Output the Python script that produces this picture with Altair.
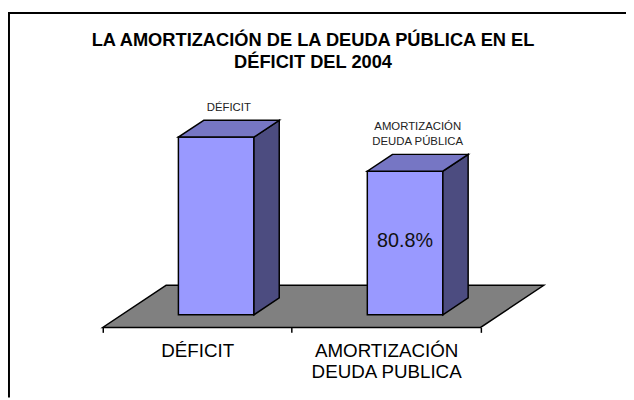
import json
import altair as alt
import pandas as pd

# ---------------- data ----------------
categories = ["DÉFICIT", "AMORTIZACIÓN\nDEUDA PUBLICA"]
values = [100.0, 80.8]
top_labels = ["DÉFICIT", "AMORTIZACIÓN\nDEUDA PÚBLICA"]
value_labels = ["", "80.8%"]
title_lines = ["LA AMORTIZACIÓN DE LA DEUDA PÚBLICA EN EL", "DÉFICIT DEL 2004"]

# ---------------- 3D geometry (style constants) ----------------
BAR_W = 0.40        # bar width, in category units
DX = 0.3345         # floor depth shift along x, category units
DY = 23.67          # floor depth shift along y, value units
D_FRONT, D_BACK = 0.3, 0.7   # bar position inside the floor depth

FRONT = "#9999FF"
TOP = "#7676C4"
SIDE = "#4C4C80"
FLOOR = "#808080"

W, H = 626, 259
PAD = {"left": 0, "top": 62, "right": 0, "bottom": 71}
PX_PER_CAT = 191.35
PX_PER_VAL = 1.8
XMIN = -96.0 / PX_PER_CAT
XMAX = XMIN + W / PX_PER_CAT
YMAX = H / PX_PER_VAL
TOP_LH = 16

n = len(categories)
xscale = alt.Scale(domain=[XMIN, XMAX], nice=False, zero=False)
yscale = alt.Scale(domain=[0, YMAX], nice=False, zero=False)

label_lines = [c.split("\n") for c in categories] + [""]
label_expr = json.dumps(label_lines, ensure_ascii=False) + "[datum.value]"
xaxis = alt.Axis(
    values=list(range(n + 1)), labelExpr=label_expr, labelOffset=PX_PER_CAT / 2,
    domain=False, grid=False, ticks=True, tickSize=5, tickColor="black", tickWidth=1.5,
    labelFont="Liberation Sans", labelFontSize=19, labelColor="black", labelLineHeight=22,
    labelPadding=9, labelFlush=False, labelOverlap=False, labelBaseline="top", title=None,
)


def X(f):
    return alt.X(f, type="quantitative", scale=xscale, axis=xaxis)


def Y(f):
    return alt.Y(f, type="quantitative", scale=yscale, axis=None)


# floor
floor_df = pd.DataFrame({
    "y": [0.0, DY],
    "x": [0.0, DX],
    "x2": [float(n), n + DX],
})
floor = alt.Chart(floor_df).mark_area(
    orient="horizontal", fill=FLOOR, stroke="black", strokeWidth=1.5, opacity=1
).encode(y=Y("y"), x=X("x"), x2=alt.X2("x2"))

front_rows, side_rows, top_rows, lab_rows, toplab_rows = [], [], [], [], []
yf = D_FRONT * DY
bd = D_BACK - D_FRONT
for i, (c, v) in enumerate(zip(categories, values)):
    cx = i + 0.5 + D_FRONT * DX
    L, R = cx - BAR_W / 2, cx + BAR_W / 2
    front_rows.append({"bar": i, "x": L, "x2": R, "y": yf, "y2": yf + v})
    side_rows += [
        {"bar": i, "x": R, "lo": yf, "hi": yf + v},
        {"bar": i, "x": R + bd * DX, "lo": yf + bd * DY, "hi": yf + v + bd * DY},
    ]
    top_rows += [
        {"bar": i, "y": yf + v, "l": L, "r": R},
        {"bar": i, "y": yf + v + bd * DY, "l": L + bd * DX, "r": R + bd * DX},
    ]
    lines = top_labels[i].split("\n")
    for k, line in enumerate(lines):
        toplab_rows.append({
            "tx": cx + bd * DX / 2,
            "ty": yf + v + bd * DY + (len(lines) - 1 - k) * TOP_LH / PX_PER_VAL,
            "top": line,
        })
    lab_rows.append({"vx": cx, "vy": yf + v / 2, "val": value_labels[i]})

front = alt.Chart(pd.DataFrame(front_rows)).mark_rect(
    fill=FRONT, stroke="black", strokeWidth=1.5
).encode(x=X("x"), x2=alt.X2("x2"), y=Y("y"), y2=alt.Y2("y2"))

side = alt.Chart(pd.DataFrame(side_rows)).mark_area(
    orient="vertical", fill=SIDE, stroke="black", strokeWidth=1.5, opacity=1
).encode(x=X("x"), y=Y("hi"), y2=alt.Y2("lo"), detail="bar:N")

top = alt.Chart(pd.DataFrame(top_rows)).mark_area(
    orient="horizontal", fill=TOP, stroke="black", strokeWidth=1.5, opacity=1
).encode(y=Y("y"), x=X("l"), x2=alt.X2("r"), detail="bar:N")

top_text = alt.Chart(pd.DataFrame(toplab_rows)).mark_text(
    font="Liberation Sans", fontSize=11.5, color="#222222", baseline="alphabetic",
    align="center", dy=-9
).encode(x=X("tx"), y=Y("ty"), text="top:N")

val_text = alt.Chart(pd.DataFrame(lab_rows)).mark_text(
    font="Liberation Sans", fontSize=20, color="#111111", baseline="middle",
    align="center", dy=-2
).encode(x=X("vx"), y=Y("vy"), text="val:N")

# chart title, drawn inside the padding band above the plot
title_df = pd.DataFrame({"t": ["\n".join(title_lines)]})
title = alt.Chart(title_df).mark_text(
    font="Liberation Sans", fontSize=18.5, fontWeight="bold", color="black",
    baseline="middle", align="center", lineBreak="\n", lineHeight=22
).encode(x=alt.value(W / 2 - 4), y=alt.value(-32), text="t:N")

# frame lines (top and left only are visible in the reference)
top_line = alt.Chart(pd.DataFrame({"a": [0]})).mark_rule(
    color="black", strokeWidth=2
).encode(x=alt.value(0), x2=alt.value(W), y=alt.value(-59.5))
left_line = alt.Chart(pd.DataFrame({"a": [0]})).mark_rule(
    color="black", strokeWidth=2
).encode(x=alt.value(1), y=alt.value(-60.5), y2=alt.value(H + 71))

chart = alt.layer(
    floor, front, side, top, top_text, val_text, title, top_line, left_line
).properties(
    width=W, height=H,
    autosize=alt.AutoSizeParams(type="none"),
    padding=PAD,
    background="white",
).configure_view(stroke="transparent", strokeWidth=0)

chart.save("out.html", embed_options={"renderer": "svg", "actions": False})
